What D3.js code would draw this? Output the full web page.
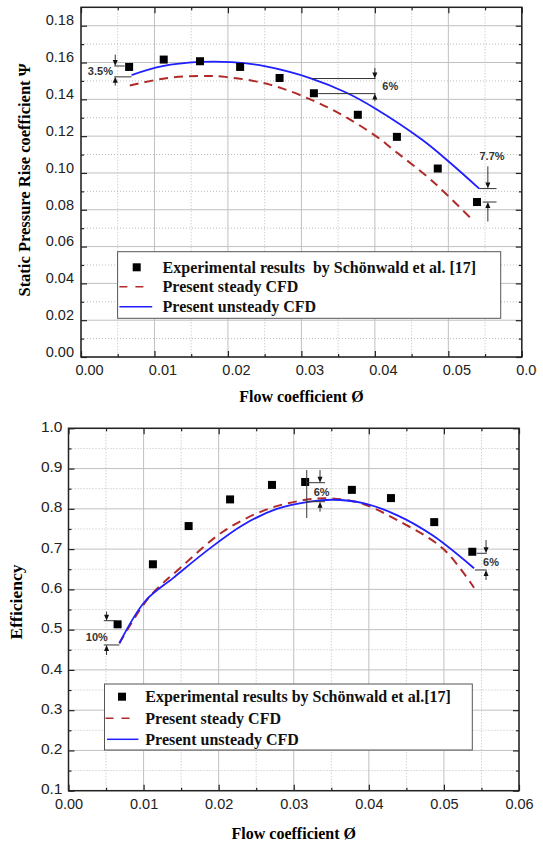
<!DOCTYPE html>
<html>
<head>
<meta charset="utf-8">
<script src="https://cdn.jsdelivr.net/npm/d3@7"></script>
<style>
  body { margin: 0; background: #fff; }
</style>
</head>
<body>
<svg id="fig" width="543" height="843"></svg>
<script>
// ---- data ----
var flowTicks = [0, 0.01, 0.02, 0.03, 0.04, 0.05, 0.06];
var psiTicks = [0, 0.02, 0.04, 0.06, 0.08, 0.10, 0.12, 0.14, 0.16, 0.18];
var effTicks = [0.1, 0.2, 0.3, 0.4, 0.5, 0.6, 0.7, 0.8, 0.9, 1.0];

// top panel: static pressure rise coefficient
var expPsi = [[0.00655, 0.1576], [0.01126, 0.1616], [0.0162, 0.1607], [0.02166, 0.1576], [0.02703, 0.1516],
  [0.0317, 0.1433], [0.03768, 0.1316], [0.043, 0.1196], [0.04856, 0.1024], [0.0539, 0.0842]];
var steadyPsi = [[0.00664, 0.1475], [0.01159, 0.1515], [0.01606, 0.1527], [0.01959, 0.1522], [0.02571, 0.148],
  [0.03137, 0.1397], [0.03608, 0.1303], [0.04079, 0.1182], [0.0422, 0.1136], [0.04785, 0.0955], [0.05327, 0.0745]];
var unsteadyPsi = [[0.00688, 0.1532], [0.0111, 0.158], [0.01606, 0.1603], [0.02053, 0.1602], [0.025, 0.158],
  [0.03137, 0.1513], [0.03608, 0.1437], [0.0401, 0.1349], [0.04644, 0.118], [0.0502, 0.1057], [0.0542, 0.0915]];

// bottom panel: efficiency
var expEff = [[0.00654, 0.5132], [0.01124, 0.6623], [0.016, 0.7572], [0.02152, 0.8234], [0.0271, 0.8594],
  [0.03152, 0.8667], [0.03774, 0.8471], [0.04295, 0.8267], [0.04871, 0.767], [0.05378, 0.6934]];
var steadyEff = [[0.00677, 0.4661], [0.01069, 0.5793], [0.01484, 0.6525], [0.02083, 0.7465], [0.02682, 0.8013],
  [0.03235, 0.8242], [0.03512, 0.8258], [0.03926, 0.8119], [0.04387, 0.771], [0.04986, 0.7016], [0.05401, 0.6041]];
var unsteadyEff = [[0.00677, 0.4661], [0.01023, 0.5711], [0.01392, 0.628], [0.01853, 0.6975], [0.02313, 0.7588],
  [0.02774, 0.7997], [0.03235, 0.8185], [0.03512, 0.8226], [0.03926, 0.8144], [0.04387, 0.7833],
  [0.04848, 0.7343], [0.05401, 0.6525]];

// deviation callouts: arrow x, upper/lower reference values, arrow tails, reference line spans, label spot
var psiNotes = [
  { text: '3.5%', ax: 0.00466, hi: 0.1581, lo: 0.1522, hiFrom: 0.1643, loFrom: 0.1475,
    hiSpan: [0.00452, 0.00593], loSpan: [0.00452, 0.00688], tx: 0.00264, ty: 0.1552 },
  { text: '6%', ax: 0.0400, hi: 0.1513, lo: 0.1431, hiFrom: 0.157, loFrom: 0.139,
    hiSpan: [0.03137, 0.0401], loSpan: [0.0323, 0.0401], tx: 0.0421, ty: 0.1471 },
  { text: '7.7%', ax: 0.05538, hi: 0.0915, lo: 0.0842, hiFrom: 0.1036, loFrom: 0.0736,
    hiSpan: [0.0542, 0.05656], loSpan: [0.05468, 0.05656], tx: 0.05595, ty: 0.1091 }
];
var effNotes = [
  { text: '10%', ax: 0.00507, hi: 0.5222, lo: 0.4619, hiFrom: 0.5446, loFrom: 0.437,
    hiSpan: [0.0047, 0.00631], loSpan: [0.0047, 0.00678], tx: 0.00378, ty: 0.4825 },
  { text: '6%', ax: 0.0335, hi: 0.8649, lo: 0.8177, hiFrom: 0.8964, loFrom: 0.7929,
    hiSpan: [0.03173, 0.03416], loSpan: [0.03173, 0.03416], tx: 0.03372, ty: 0.8426,
    bar: [0.03173, 0.8964, 0.7773] },
  { text: '6%', ax: 0.05561, hi: 0.6896, lo: 0.6481, hiFrom: 0.7226, loFrom: 0.6233,
    hiSpan: [0.05437, 0.0557], loSpan: [0.05414, 0.0557], tx: 0.05627, ty: 0.6687 }
];

var legendTop = ['Experimental results  by Schönwald et al. [17]', 'Present steady CFD', 'Present unsteady CFD'];
var legendBottom = ['Experimental results by Schönwald et al.[17]', 'Present steady CFD', 'Present unsteady CFD'];

var blue = '#1f1fff', red = '#b02a2a';
var sans = "'Liberation Sans', Arial, sans-serif";
var serif = "'Liberation Serif', 'Times New Roman', serif";

var svg = d3.select('#fig');

// the source image is cut at the right edge, through the last top-panel tick label
svg.append('defs').append('clipPath').attr('id', 'edgeClip')
  .append('rect').attr('x', -50).attr('y', -50).attr('width', 587).attr('height', 900);

function mids(t) {
  return d3.pairs(t).map(function (p) { return (p[0] + p[1]) / 2; });
}

function panel(o) {
  var x = d3.scaleLinear().domain([flowTicks[0], flowTicks[flowTicks.length - 1]]).range([o.left, o.right]);
  var y = d3.scaleLinear().domain(o.yDomain).range([o.bottom, o.top]);
  var g = svg.append('g');
  var xMinor = mids(flowTicks);
  var yMinor = mids(o.yTicks);

  // grid
  var grid = g.append('g');
  grid.selectAll('.vmin').data(xMinor).enter().append('line')
    .attr('x1', x).attr('x2', x).attr('y1', o.top).attr('y2', o.bottom)
    .attr('stroke', '#bdbdbd').attr('stroke-dasharray', '1,2');
  grid.selectAll('.hmin').data(yMinor).enter().append('line')
    .attr('y1', y).attr('y2', y).attr('x1', o.left).attr('x2', o.right)
    .attr('stroke', '#bdbdbd').attr('stroke-dasharray', '1,2');
  grid.selectAll('.vmaj').data(flowTicks).enter().append('line')
    .attr('x1', x).attr('x2', x).attr('y1', o.top).attr('y2', o.bottom)
    .attr('stroke', '#c0c0c0').attr('stroke-width', 1);
  grid.selectAll('.hmaj').data(o.yTicks).enter().append('line')
    .attr('y1', y).attr('y2', y).attr('x1', o.left).attr('x2', o.right)
    .attr('stroke', '#c0c0c0').attr('stroke-width', 1);

  // axes (ticks point inward)
  var xb = g.append('g').attr('transform', 'translate(0,' + o.bottom + ')')
    .call(d3.axisBottom(x).tickValues(flowTicks).tickFormat(d3.format('.2f')).tickSize(-6).tickPadding(o.xPad));
  var yl = g.append('g').attr('transform', 'translate(' + o.left + ',0)')
    .call(d3.axisLeft(y).tickValues(o.yTicks).tickFormat(d3.format(o.yFmt)).tickSize(-6).tickPadding(o.yPad));
  g.append('g').attr('transform', 'translate(0,' + o.bottom + ')')
    .call(d3.axisBottom(x).tickValues(xMinor).tickFormat('').tickSize(-3));
  g.append('g').attr('transform', 'translate(' + o.left + ',0)')
    .call(d3.axisLeft(y).tickValues(yMinor).tickFormat('').tickSize(-3));
  g.append('g').attr('transform', 'translate(0,' + o.top + ')')
    .call(d3.axisTop(x).tickValues(flowTicks).tickFormat('').tickSize(-6));
  g.append('g').attr('transform', 'translate(0,' + o.top + ')')
    .call(d3.axisTop(x).tickValues(xMinor).tickFormat('').tickSize(-3));
  g.append('g').attr('transform', 'translate(' + o.right + ',0)')
    .call(d3.axisRight(y).tickValues(o.yTicks).tickFormat('').tickSize(-6));
  g.append('g').attr('transform', 'translate(' + o.right + ',0)')
    .call(d3.axisRight(y).tickValues(yMinor).tickFormat('').tickSize(-3));
  g.selectAll('.domain').remove();
  g.selectAll('.tick line').attr('stroke', '#222').attr('stroke-width', 1.2);
  g.selectAll('.tick text').attr('font-family', sans).attr('fill', '#222');
  xb.selectAll('text').attr('dx', o.xLabelDx).attr('font-size', o.xTickFont);
  if (o.clipEdge) xb.attr('clip-path', 'url(#edgeClip)');
  yl.selectAll('text').attr('dy', o.yLabelDy).attr('font-size', o.yTickFont);

  // frame
  g.append('rect').attr('x', o.left).attr('y', o.top)
    .attr('width', o.right - o.left).attr('height', o.bottom - o.top)
    .attr('fill', 'none').attr('stroke', '#222').attr('stroke-width', 1.5);

  // axis titles
  g.append('text').attr('x', (o.left + o.right) / 2).attr('y', o.xTitleY)
    .attr('text-anchor', 'middle').attr('font-family', serif).attr('font-weight', 'bold')
    .attr('font-size', 16).text('Flow coefficient Ø');
  g.append('text').attr('transform', 'translate(' + o.yTitleX + ',' + o.yTitleY + ') rotate(-90)')
    .attr('text-anchor', 'middle').attr('font-family', serif).attr('font-weight', 'bold')
    .attr('font-size', o.yTitleSize).text(o.yTitle);

  // curves
  var line = d3.line().curve(d3.curveCatmullRom.alpha(0.5))
    .x(function (d) { return x(d[0]); }).y(function (d) { return y(d[1]); });
  g.append('path').datum(o.steady).attr('d', line).attr('fill', 'none')
    .attr('stroke', red).attr('stroke-width', 2).attr('stroke-dasharray', '9,6');
  g.append('path').datum(o.unsteady).attr('d', line).attr('fill', 'none')
    .attr('stroke', blue).attr('stroke-width', 1.8);

  // experimental points
  g.selectAll('.pt').data(o.exp).enter().append('rect')
    .attr('x', function (d) { return x(d[0]) - 4; }).attr('y', function (d) { return y(d[1]) - 4; })
    .attr('width', 8).attr('height', 8).attr('fill', '#000');

  // deviation callouts
  o.notes.forEach(function (n) {
    var a = g.append('g').attr('stroke', '#333').attr('stroke-width', 1);
    a.append('line').attr('x1', x(n.hiSpan[0])).attr('x2', x(n.hiSpan[1])).attr('y1', y(n.hi)).attr('y2', y(n.hi));
    a.append('line').attr('x1', x(n.loSpan[0])).attr('x2', x(n.loSpan[1])).attr('y1', y(n.lo)).attr('y2', y(n.lo));
    if (n.bar) {
      a.append('line').attr('x1', x(n.bar[0])).attr('x2', x(n.bar[0])).attr('y1', y(n.bar[1])).attr('y2', y(n.bar[2]));
    }
    arrow(a, x(n.ax), y(n.hiFrom), y(n.hi));
    arrow(a, x(n.ax), y(n.loFrom), y(n.lo));
    g.append('text').attr('x', x(n.tx)).attr('y', y(n.ty)).attr('dy', '0.35em')
      .attr('text-anchor', 'middle').attr('font-family', sans).attr('font-weight', 'bold')
      .attr('font-size', 11).attr('fill', '#333').text(n.text);
  });

  // legend
  var L = o.legend;
  var lg = g.append('g');
  lg.append('rect').attr('x', L.x0).attr('y', L.y0).attr('width', L.x1 - L.x0).attr('height', L.y1 - L.y0)
    .attr('fill', '#fff').attr('stroke', '#555').attr('stroke-width', 1);
  lg.append('rect').attr('x', L.sx - 4).attr('y', L.rows[0] - 4).attr('width', 8).attr('height', 8).attr('fill', '#000');
  lg.append('line').attr('x1', L.dash[0]).attr('x2', L.dash[1]).attr('y1', L.rows[1]).attr('y2', L.rows[1])
    .attr('stroke', red).attr('stroke-width', 1.5).attr('stroke-dasharray', '8,8');
  lg.append('line').attr('x1', L.solid[0]).attr('x2', L.solid[1]).attr('y1', L.rows[2]).attr('y2', L.rows[2])
    .attr('stroke', blue).attr('stroke-width', 1.5);
  lg.selectAll('.lt').data(o.legendText).enter().append('text')
    .attr('x', L.tx).attr('y', function (d, i) { return L.rows[i]; }).attr('dy', '0.35em')
    .attr('font-family', serif).attr('font-weight', 'bold').attr('font-size', 16)
    .attr('fill', '#111').style('white-space', 'pre').text(function (d) { return d; });
}

function arrow(a, ax, from, tip) {
  var dir = tip > from ? 1 : -1;
  a.append('line').attr('x1', ax).attr('x2', ax).attr('y1', from).attr('y2', tip - dir * 5);
  a.append('path')
    .attr('d', 'M' + (ax - 2.5) + ',' + (tip - dir * 6) + 'L' + (ax + 2.5) + ',' + (tip - dir * 6) + 'L' + ax + ',' + tip + 'Z')
    .attr('fill', '#111').attr('stroke', 'none');
}

panel({
  left: 81, right: 521.8, top: 7.3, bottom: 357,
  yDomain: [0, 0.19], yTicks: psiTicks, yFmt: '.2f',
  xTickFont: 14.5, yTickFont: 14.5, xPad: 8, yPad: 7, xLabelDx: 8, yLabelDy: '-0.05em', clipEdge: true,
  xTitleY: 402, yTitleX: 30, yTitleY: 180, yTitleSize: 16.5,
  yTitle: 'Static Pressure Rise coefficient Ψ',
  exp: expPsi, steady: steadyPsi, unsteady: unsteadyPsi, notes: psiNotes,
  legendText: legendTop,
  legend: { x0: 117.6, x1: 500.7, y0: 251.7, y1: 318.3, rows: [267.3, 286.7, 306.7],
    sx: 136.7, tx: 162.6, dash: [119.4, 145.3], solid: [119.4, 152.2] }
});

panel({
  left: 68.5, right: 519, top: 428.3, bottom: 790.7,
  yDomain: [0.1, 1.0], yTicks: effTicks, yFmt: '.1f',
  xTickFont: 14.5, yTickFont: 15.5, xPad: 8, yPad: 6, xLabelDx: 0, yLabelDy: '0.2em', clipEdge: false,
  xTitleY: 839, yTitleX: 22, yTitleY: 602, yTitleSize: 17.5,
  yTitle: 'Efficiency',
  exp: expEff, steady: steadyEff, unsteady: unsteadyEff, notes: effNotes,
  legendText: legendBottom,
  legend: { x0: 104.5, x1: 472.3, y0: 684, y1: 750, rows: [696.7, 718.3, 739.3],
    sx: 122, tx: 145.3, dash: [105.5, 133.2], solid: [107, 138.4] }
});
</script>
</body>
</html>
